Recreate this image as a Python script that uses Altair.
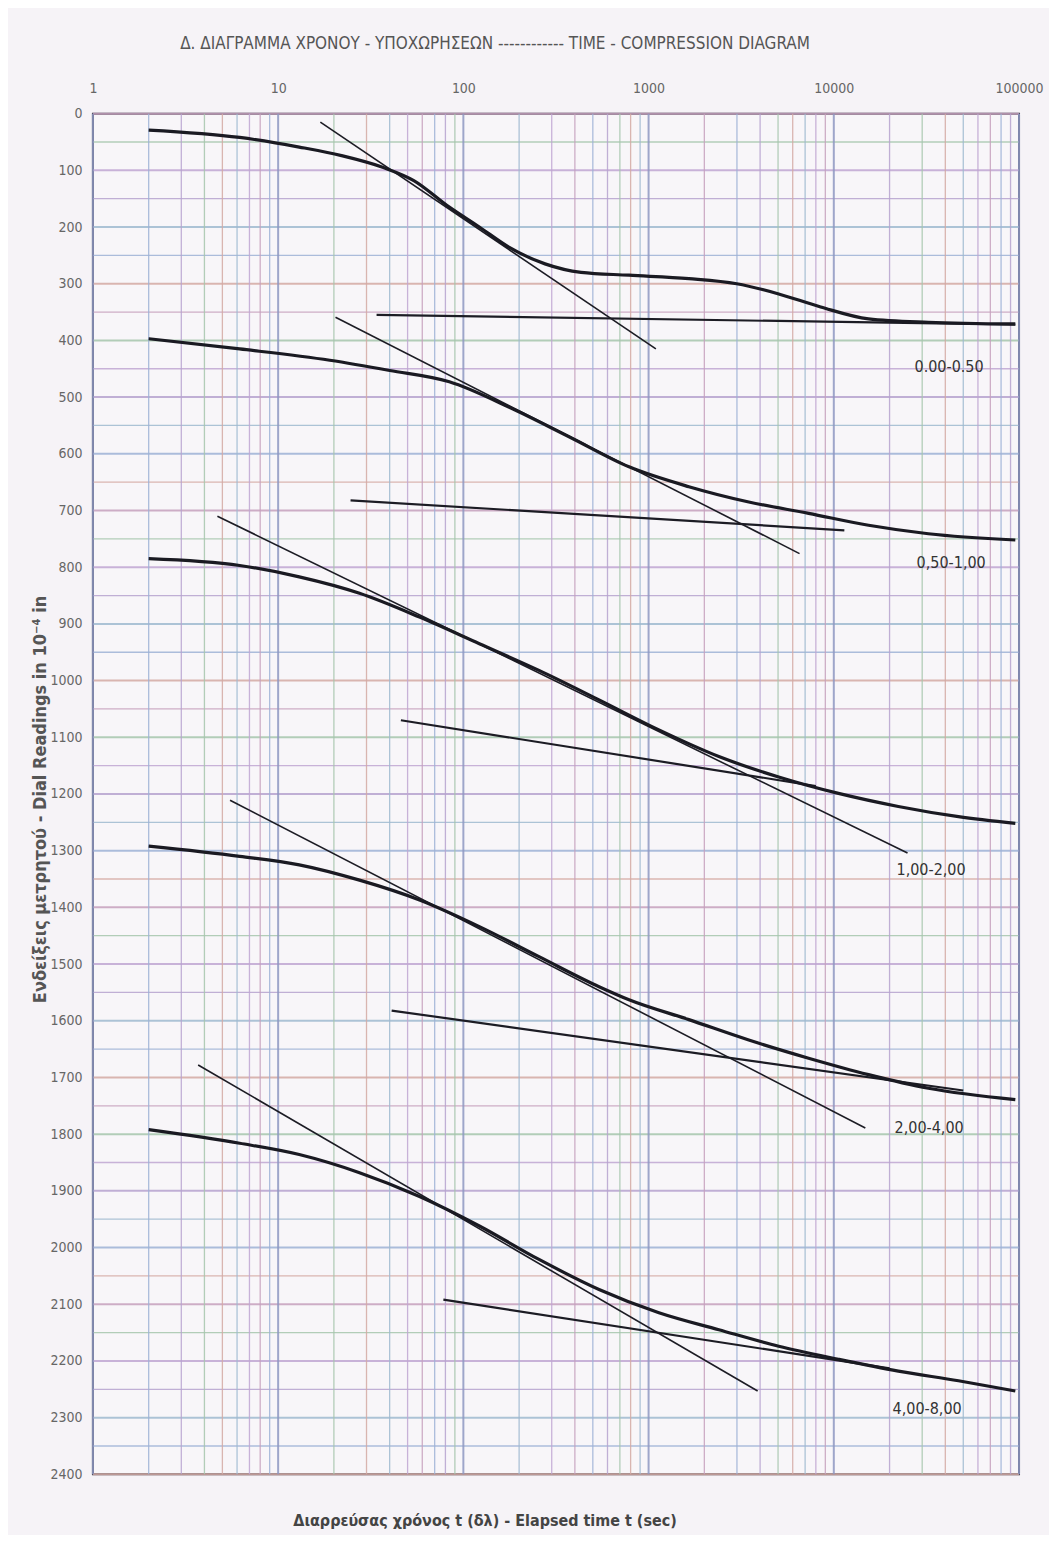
import altair as alt
import pandas as pd

# ---- data ----
c1_t = [2, 6.2, 13, 22, 37, 54, 84, 122, 177, 276, 432, 784, 1650, 2990, 5040, 8490, 15400, 32400, 95500]
c1_v = [29, 42, 59, 74, 95, 118, 165, 200, 236, 265, 280, 285, 291, 300, 318, 341, 362, 368, 371]

c2_t = [2, 6.2, 19, 40, 84, 177, 372, 784, 1650, 3475, 7310, 15400, 32400, 95500]
c2_v = [397, 415, 435, 453, 473, 518, 570, 623, 658, 685, 705, 726, 741, 752]

c3_t = [2, 6.2, 13, 27.5, 58, 122, 256, 540, 1137, 2395, 5040, 10600, 22300, 47100, 95500]
c3_v = [785, 797, 817, 846, 888, 935, 982, 1034, 1087, 1134, 1170, 1199, 1222, 1240, 1252]

c4_t = [2, 6.2, 13, 27.5, 58, 122, 256, 540, 784, 1650, 3475, 7310, 15400, 32400, 95500]
c4_v = [1292, 1310, 1325, 1352, 1387, 1434, 1487, 1540, 1563, 1598, 1634, 1666, 1695, 1719, 1739]

c5_t = [2, 6.2, 13, 27.5, 58, 122, 256, 540, 1137, 2395, 5040, 10600, 22300, 47100, 95500]
c5_v = [1792, 1816, 1836, 1868, 1910, 1962, 2021, 2074, 2115, 2145, 2174, 2197, 2218, 2235, 2253]

# tangent lines (start t, start v, end t, end v)
tangent_t0 = [16.9, 20.4, 4.7, 5.5, 3.7]
tangent_v0 = [15, 359, 710, 1211, 1678]
tangent_t1 = [1095, 6530, 25000, 14800, 3880]
tangent_v1 = [415, 776, 1304, 1789, 2253]

# secondary (flat) lines
flat_t0 = [34, 24.6, 46, 41, 78]
flat_v0 = [355, 682, 1070, 1582, 2092]
flat_t1 = [95500, 11400, 8000, 50000, 20000]
flat_v1 = [372, 735, 1186, 1723, 2213]

stage_labels = ["0.00-0.50", "0,50-1,00", "1,00-2,00", "2,00-4,00", "4,00-8,00"]
label_t = [41900, 43000, 33500, 32700, 31900]
label_v = [447, 793, 1334, 1789, 2285]

x_ticks = [1, 10, 100, 1000, 10000, 100000]
y_ticks = list(range(0, 2401, 100))
grid_mult = [1, 2, 3, 4, 5, 6, 7, 8, 9]
grid_decades = [1, 10, 100, 1000, 10000]
h_grid = list(range(0, 2401, 50))

FONT = "DejaVu Sans Condensed"
grid_palette = ["#c6a0bd", "#9db1d6", "#b6a2cf", "#a6c6ad", "#d3a9a3", "#9fbad0", "#c0a6d2"]

# ---- tables ----
curves = []
for i, (ts, vs) in enumerate([(c1_t, c1_v), (c2_t, c2_v), (c3_t, c3_v), (c4_t, c4_v), (c5_t, c5_v)]):
    for t, v in zip(ts, vs):
        curves.append({"stage": stage_labels[i], "t": t, "v": v})
curves = pd.DataFrame(curves)

tang = pd.DataFrame({"stage": stage_labels, "t0": tangent_t0, "v0": tangent_v0,
                     "t1": tangent_t1, "v1": tangent_v1})
flat = pd.DataFrame({"stage": stage_labels, "t0": flat_t0, "v0": flat_v0,
                     "t1": flat_t1, "v1": flat_v1})
labels = pd.DataFrame({"text": stage_labels, "t": label_t, "v": label_v})

vrows = []
k = 0
for d in grid_decades:
    for m in grid_mult:
        vrows.append({"t": m * d, "c": "#8e98c2" if m == 1 else grid_palette[k % len(grid_palette)],
                      "w": 2.0 if m == 1 else 1.3})
        k += 1
vrows.append({"t": 100000, "c": "#8e98c2", "w": 2.0})
vgrid = pd.DataFrame(vrows)

hgrid = pd.DataFrame([{"v": v, "c": grid_palette[(i * 3) % len(grid_palette)],
                       "w": 2.0 if v % 100 == 0 else 1.3} for i, v in enumerate(h_grid)])

xscale = alt.Scale(type="log", domain=[1, 100000], nice=False)
yscale = alt.Scale(domain=[0, 2400], reverse=True, nice=False, zero=False)

x_axis_top = alt.Axis(orient="top", values=x_ticks, format="d", labelFont=FONT, labelFontSize=14,
                      labelColor="#666666", ticks=False, domain=False, grid=False, labelPadding=18,
                      labelFlush=False,
                      title="Δ. ΔΙΑΓΡΑΜΜΑ ΧΡΟΝΟΥ - ΥΠΟΧΩΡΗΣΕΩΝ ------------ TIME - COMPRESSION DIAGRAM",
                      titleFont=FONT, titleFontSize=17, titleFontWeight="normal", titleColor="#555555",
                      titleX=402, titleY=-70, titleAnchor="middle", titleAlign="center",
                      titleBaseline="middle")
y_axis = alt.Axis(values=y_ticks, format="d", labelFont=FONT, labelFontSize=14, labelColor="#666666",
                  ticks=False, domain=False, grid=False, labelPadding=11, labelFlush=False,
                  title="Ενδείξεις μετρητού - Dial Readings in 10⁻⁴ in",
                  titleFont=FONT, titleFontSize=18, titleFontWeight="bold", titleColor="#555555",
                  titleX=-52, titleY=686, titleAngle=-90, titleAlign="center",
                  titleBaseline="middle")


def X(field):
    return alt.X(field, type="quantitative", scale=xscale, axis=x_axis_top)


def Y(field):
    return alt.Y(field, type="quantitative", scale=yscale, axis=y_axis)


vg = alt.Chart(vgrid).mark_rule(opacity=0.85).encode(
    x=X("t"),
    color=alt.Color("c:N", scale=None),
    strokeWidth=alt.StrokeWidth("w:Q", scale=None),
)
hg = alt.Chart(hgrid).mark_rule(opacity=0.85).encode(
    y=Y("v"),
    color=alt.Color("c:N", scale=None),
    strokeWidth=alt.StrokeWidth("w:Q", scale=None),
)

tl = alt.Chart(tang).mark_rule(color="#1c1c24", strokeWidth=1.6).encode(
    x=X("t0"), x2="t1:Q",
    y=Y("v0"), y2="v1:Q",
)
fl = alt.Chart(flat).mark_rule(color="#1c1c24", strokeWidth=2.2).encode(
    x=X("t0"), x2="t1:Q",
    y=Y("v0"), y2="v1:Q",
)
cv = alt.Chart(curves).mark_line(color="#1a1a22", strokeWidth=3.2, interpolate="monotone").encode(
    x=X("t"),
    y=Y("v"),
    detail="stage:N",
)
tx = alt.Chart(labels).mark_text(font=FONT, fontSize=16, color="#333333").encode(
    x=X("t"),
    y=Y("v"),
    text="text:N",
)

chart = alt.layer(hg, vg, tl, fl, cv, tx).properties(
    width=927, height=1362,
    autosize=alt.AutoSizeParams(type="none"),
    padding={"left": 85, "top": 105, "right": 30, "bottom": 60},
    title=alt.TitleParams("Διαρρεύσας χρόνος t (δλ) - Elapsed time t (sec)", orient="bottom",
                          anchor="middle", dx=-71, offset=32, font=FONT, fontSize=16,
                          fontWeight="bold", color="#444444"),
).configure(background="#f6f3f7").configure_view(stroke="#3a3a44", strokeWidth=2, fill="#f8f6f9")

chart.save("out.html", embed_options={"renderer": "svg", "actions": False})
